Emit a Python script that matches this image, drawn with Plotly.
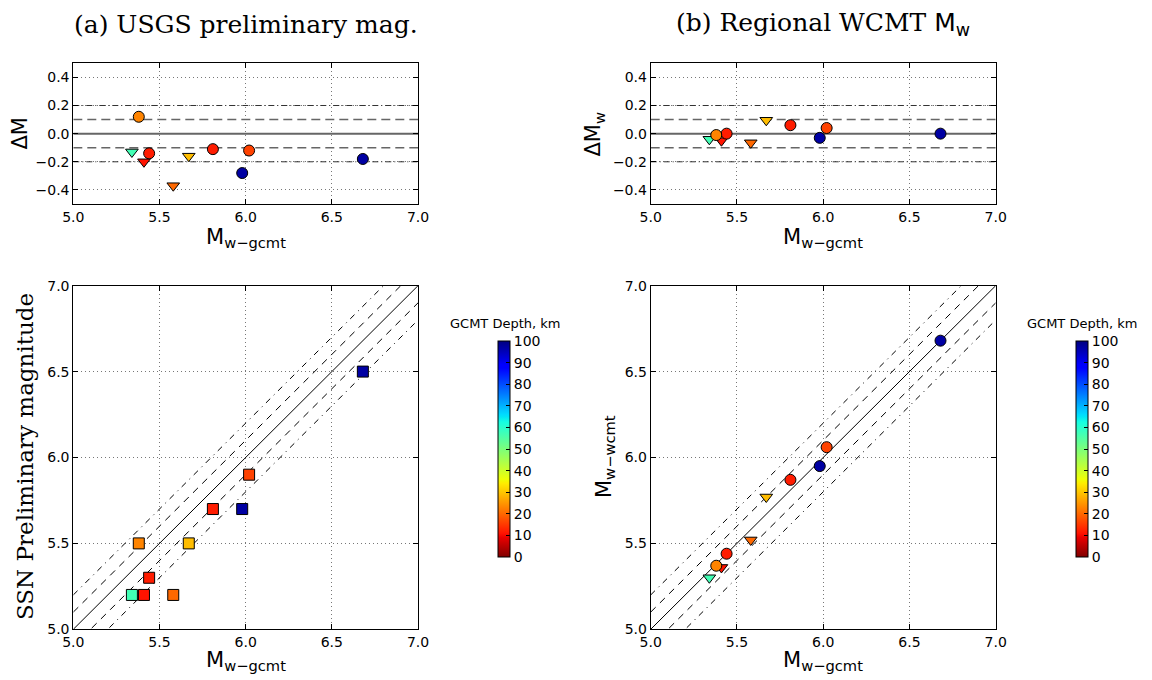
import plotly.graph_objects as go

# ---------------- data ----------------
mw_gcmt = [5.34, 5.41, 5.44, 5.38, 5.58, 5.67, 5.81, 6.02, 5.98, 6.68]
depth_km = [57, 11, 12, 23, 20, 29, 12, 16, 97, 97]
is_triangle = [True, True, False, False, True, True, False, False, False, False]
dm_usgs = [-0.13, -0.20, -0.14, 0.12, -0.37, -0.16, -0.11, -0.12, -0.28, -0.18]
ssn_prelim = [5.2, 5.2, 5.3, 5.5, 5.2, 5.5, 5.7, 5.9, 5.7, 6.5]
dm_wcmt = [-0.04, -0.05, 0.00, -0.01, -0.065, 0.095, 0.06, 0.04, -0.03, 0.00]
mw_wcmt = [5.30, 5.36, 5.44, 5.37, 5.52, 5.77, 5.87, 6.06, 5.95, 6.68]

ref_offsets_dash = [0.1, -0.1]
ref_offsets_dashdot = [0.2, -0.2]
mag_range = [5.0, 7.0]
dm_range = [-0.5, 0.5]
mag_ticks = [5.0, 5.5, 6.0, 6.5, 7.0]
dm_ticks = [-0.4, -0.2, 0.0, 0.2, 0.4]
cbar_ticks = list(range(0, 101, 10))

# page body has an 8px margin; figure is sized to fill the rest
OFF = 8
W, H = 1144, 672

# ---------------- matplotlib "jet" reversed colorscale ----------------
_jet = {
    "r": [(0, 0), (0.35, 0), (0.66, 1), (0.89, 1), (1, 0.5)],
    "g": [(0, 0), (0.125, 0), (0.375, 1), (0.64, 1), (0.91, 0), (1, 0)],
    "b": [(0, 0.5), (0.11, 1), (0.34, 1), (0.65, 0), (1, 0)],
}


def _interp(pts, x):
    for (x0, y0), (x1, y1) in zip(pts[:-1], pts[1:]):
        if x0 <= x <= x1:
            return y0 + (y1 - y0) * (x - x0) / (x1 - x0) if x1 > x0 else y1
    return pts[-1][1]


def jet(x):
    return tuple(int(round(255 * _interp(_jet[c], x))) for c in "rgb")


breaks = sorted({p[0] for c in _jet.values() for p in c})
stops = sorted({1 - b for b in breaks})
jet_r = [[s, "rgb(%d,%d,%d)" % jet(1 - s)] for s in stops]


def px_x(p):
    return (p - OFF) / W


def px_y(p):
    return 1 - (p - OFF) / H


# axes pixel boxes (in screenshot pixels)
LX = [73.3, 418.0]
RX = [650.7, 995.7]
TY = [63.3, 204.0]
BY = [285.7, 629.3]

fig = go.Figure()

symbols = ["triangle-down" if t else "circle" for t in is_triangle]


def add_dm_panel(xa, ya, dm, cax):
    # reference lines
    fig.add_trace(go.Scatter(x=mag_range, y=[0, 0], mode="lines",
                             line=dict(color="#666666", width=2),
                             xaxis=xa, yaxis=ya, showlegend=False, hoverinfo="skip"))
    for o in ref_offsets_dash:
        fig.add_trace(go.Scatter(x=mag_range, y=[o, o], mode="lines",
                                 line=dict(color="#666666", width=1.5, dash="9px,5px"),
                                 xaxis=xa, yaxis=ya, showlegend=False, hoverinfo="skip"))
    for o in ref_offsets_dashdot:
        fig.add_trace(go.Scatter(x=mag_range, y=[o, o], mode="lines",
                                 line=dict(color="#333333", width=1, dash="6px,3px,1px,3px"),
                                 xaxis=xa, yaxis=ya, showlegend=False, hoverinfo="skip"))
    fig.add_trace(go.Scatter(x=mw_gcmt, y=dm, mode="markers",
                             marker=dict(symbol=symbols, size=11, color=depth_km,
                                         coloraxis=cax,
                                         line=dict(color="black", width=1)),
                             xaxis=xa, yaxis=ya, showlegend=False))


def add_mag_panel(xa, ya, yvals, syms, cax, size):
    fig.add_trace(go.Scatter(x=mag_range, y=mag_range, mode="lines",
                             line=dict(color="black", width=1),
                             xaxis=xa, yaxis=ya, showlegend=False, hoverinfo="skip"))
    for o in ref_offsets_dash:
        fig.add_trace(go.Scatter(x=mag_range, y=[v + o for v in mag_range], mode="lines",
                                 line=dict(color="black", width=1, dash="7px,6px"),
                                 xaxis=xa, yaxis=ya, showlegend=False, hoverinfo="skip"))
    for o in ref_offsets_dashdot:
        fig.add_trace(go.Scatter(x=mag_range, y=[v + o for v in mag_range], mode="lines",
                                 line=dict(color="black", width=1, dash="6px,5px,1px,5px"),
                                 xaxis=xa, yaxis=ya, showlegend=False, hoverinfo="skip"))
    fig.add_trace(go.Scatter(x=mw_gcmt, y=yvals, mode="markers",
                             marker=dict(symbol=syms, size=size, color=depth_km,
                                         coloraxis=cax,
                                         line=dict(color="black", width=1)),
                             xaxis=xa, yaxis=ya, showlegend=False))


add_dm_panel("x", "y", dm_usgs, "coloraxis")
add_dm_panel("x2", "y2", dm_wcmt, "coloraxis2")
add_mag_panel("x3", "y3", ssn_prelim, ["square"] * len(mw_gcmt), "coloraxis", 11)
add_mag_panel("x4", "y4", mw_wcmt, symbols, "coloraxis2", 11)

tickfont = dict(family="DejaVu Sans", size=14, color="black")
axis_common = dict(showline=True, linecolor="black", linewidth=1, mirror="allticks",
                   ticks="inside", ticklen=5, tickcolor="black", tickwidth=1,
                   showgrid=True, gridcolor="#777777", gridwidth=1, griddash="1px,3px",
                   zeroline=False, tickfont=tickfont, automargin=False)


def xaxis(dom, anchor):
    return dict(domain=[px_x(dom[0]), px_x(dom[1])], anchor=anchor, range=mag_range,
                tickvals=mag_ticks, ticktext=["%.1f" % v for v in mag_ticks], **axis_common)


def yaxis_dm(dom, anchor):
    return dict(domain=[px_y(dom[1]), px_y(dom[0])], anchor=anchor, range=dm_range,
                tickvals=dm_ticks, ticktext=[("%.1f" % v).replace("-", "\u2212") for v in dm_ticks],
                **axis_common)


def yaxis_mag(dom, anchor):
    return dict(domain=[px_y(dom[1]), px_y(dom[0])], anchor=anchor, range=mag_range,
                tickvals=mag_ticks, ticktext=["%.1f" % v for v in mag_ticks], **axis_common)


def cbar(xpx):
    return dict(thickness=12, thicknessmode="pixels", len=216, lenmode="pixels",
                x=px_x(xpx), xanchor="left", xpad=0, y=px_y(449), yanchor="middle", ypad=0,
                outlinewidth=1, outlinecolor="black", tickvals=cbar_ticks,
                ticks="inside", ticklen=4, tickcolor="black",
                tickfont=dict(family="DejaVu Sans", size=14, color="black"))


fig.update_layout(
    template="none",
    width=W, height=H, margin=dict(l=0, r=0, t=0, b=0, pad=0, autoexpand=False),
    paper_bgcolor="white", plot_bgcolor="white",
    xaxis=xaxis(LX, "y"), yaxis=yaxis_dm(TY, "x"),
    xaxis2=xaxis(RX, "y2"), yaxis2=yaxis_dm(TY, "x2"),
    xaxis3=xaxis(LX, "y3"), yaxis3=yaxis_mag(BY, "x3"),
    xaxis4=xaxis(RX, "y4"), yaxis4=yaxis_mag(BY, "x4"),
    coloraxis=dict(colorscale=jet_r, cmin=0, cmax=100, colorbar=cbar(498)),
    coloraxis2=dict(colorscale=jet_r, cmin=0, cmax=100, colorbar=cbar(1076)),
)

ann = []


def add_text(text, xp, yp, size, family="DejaVu Sans", angle=0, xanchor="center", yanchor="middle"):
    ann.append(dict(text=text, x=px_x(xp), y=px_y(yp), xref="paper", yref="paper",
                    showarrow=False, textangle=angle, xanchor=xanchor, yanchor=yanchor,
                    font=dict(family=family, size=size, color="black")))


serif = "DejaVu Serif"
add_text("(a) USGS preliminary mag.", 245.7, 24, 25, family=serif)
add_text("(b) Regional WCMT <span style='font-family:DejaVu Sans'>M<sub>w</sub></span>",
         823, 24, 25, family=serif)
add_text("M<sub>w\u2212gcmt</sub>", 245.7, 238, 21)
add_text("M<sub>w\u2212gcmt</sub>", 823, 238, 21)
add_text("M<sub>w\u2212gcmt</sub>", 245.7, 661, 21)
add_text("M<sub>w\u2212gcmt</sub>", 823, 661, 21)
add_text("\u0394M", 20, 133.6, 21, angle=-90)
add_text("\u0394M<sub>w</sub>", 594, 133.6, 21, angle=-90)
add_text("SSN Preliminary magnitude", 25, 457, 23, family=serif, angle=-90)
add_text("M<sub>w\u2212wcmt</sub>", 605, 457, 21, angle=-90)
add_text("GCMT Depth, km", 505, 323, 13)
add_text("GCMT Depth, km", 1082, 323, 13)
fig.update_layout(annotations=ann)

fig.write_html("out.html")
